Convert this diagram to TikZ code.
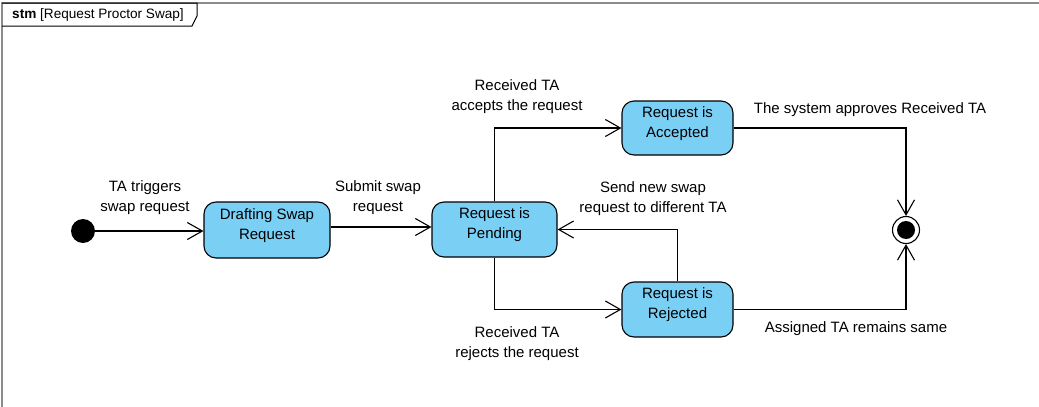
\documentclass[tikz,border=0pt]{standalone}
\usepackage{fontspec}
\setmainfont{Liberation Sans}
\usetikzlibrary{arrows.meta}
\definecolor{stfill}{RGB}{122,207,245}
\definecolor{framegray}{RGB}{140,140,140}
\tikzset{
  lbl/.style={align=center, font=\fontsize{15}{20}\selectfont, inner sep=0pt},
  state/.style={draw=black, line width=1.1pt, fill=stfill, rounded corners=12pt, inner sep=0pt,
    label={[lbl, yshift=4.5pt]center:#1}},
  trans/.style={draw=black, line width=1.1pt, -{Straight Barb[length=15pt,width=17pt,line width=1.1pt]}}
}
\begin{document}
\begin{tikzpicture}[x=1pt,y=-1pt]
\useasboundingbox (0,0) rectangle (1039,407);
\fill[white] (0,0) rectangle (1039,407);
% frame
\draw[framegray, line width=1.5pt] (2,407) -- (2,3) -- (1039,3);
\draw[black, line width=1pt] (2,3) -- (197,3) -- (197,16) -- (192,26) -- (2,26);
\node[anchor=west, inner sep=0pt, font=\fontsize{13.6}{15}\selectfont] (title) at (12,15) {\textbf{stm} [Request Proctor Swap]};
% nodes
\node[circle, fill=black, minimum size=24pt, inner sep=0pt] (init) at (83,231) {};
\node[state={Drafting Swap\\Request}, minimum width=126pt, minimum height=56pt] (draft) at (267,230) {};
\node[state={Request is\\Pending}, minimum width=125pt, minimum height=55pt] (pend) at (494.5,229.5) {};
\node[state={Request is\\Accepted}, minimum width=111pt, minimum height=54pt] (acc) at (677.5,128) {};
\node[state={Request is\\Rejected}, minimum width=111pt, minimum height=55pt] (rej) at (677.5,309.5) {};
\node[circle, draw=black, line width=1.1pt, fill=white, minimum size=27pt, inner sep=0pt] (final) at (906,230) {};
\node[circle, fill=black, minimum size=18pt, inner sep=0pt] (finalin) at (final.center) {};
% transitions
\draw[trans] (init) -- (draft.west |- init);
\draw[trans] (draft.east |- 0,227) -- (pend.west |- 0,227);
\draw[trans] (pend.north) |- (acc.west);
\draw[trans] (pend.south) |- (rej.west);
\draw[trans] (rej.north) |- (pend.east);
\draw[trans] (acc.east) -| (final.north);
\draw[trans] (rej.east) -| (final.south);
% labels
\node[lbl] (l1) at (145,197.5) {TA triggers\\swap request};
\node[lbl] (l2) at (378,197.5) {Submit swap\\request};
\node[lbl] (l3) at (517,97) {Received TA\\accepts the request};
\node[lbl] (l4) at (653,198.5) {Send new swap\\request to different TA};
\node[lbl] (l5) at (870,110) {The system approves Received TA};
\node[lbl] (l6) at (517,344) {Received TA\\rejects the request};
\node[lbl] (l7) at (856,329) {Assigned TA remains same};
\end{tikzpicture}
\end{document}
